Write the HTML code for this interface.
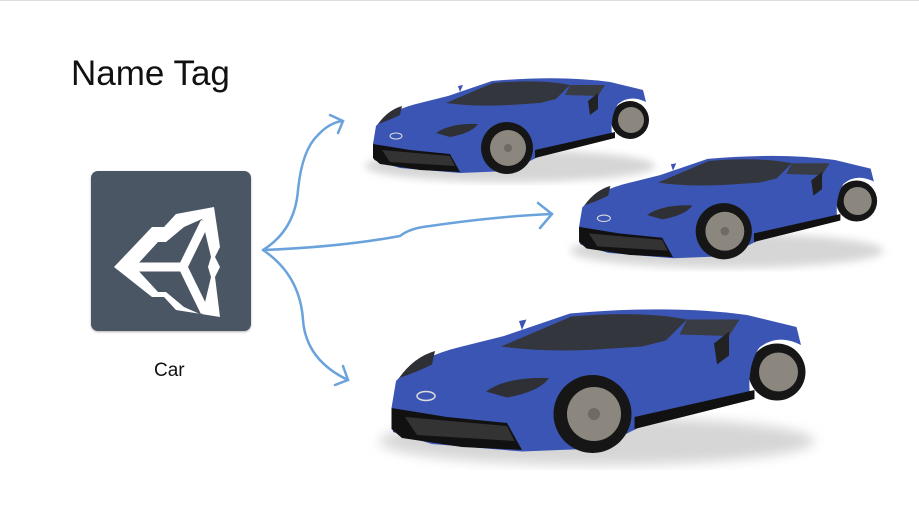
<!DOCTYPE html>
<html><head><meta charset="utf-8"><style>
html,body{margin:0;padding:0;background:#fff;}
body{width:919px;height:517px;position:relative;overflow:hidden;font-family:"Liberation Sans",sans-serif;}
.title{position:absolute;left:71px;top:54px;font-size:35px;color:#111;font-family:"Liberation Sans",sans-serif;font-weight:300;}
.lbl{position:absolute;left:154px;top:360px;font-size:19px;color:#111;}
.icon{position:absolute;left:91px;top:171px;width:160px;height:160px;background:#4b5665;border-radius:7px;box-shadow:0 1px 2px rgba(0,0,0,.3);}
</style></head><body>
<div style="position:absolute;left:0;top:0;width:919px;height:1px;background:#ddd"></div>
<div class="title">Name Tag</div>
<div class="icon"></div>
<div class="lbl">Car</div>
<svg width="919" height="517" style="position:absolute;left:0;top:0">
<defs>
<filter id="bl"><feGaussianBlur stdDeviation="4"/></filter>
<g id="car">
<ellipse cx="150" cy="96" rx="145" ry="16" fill="#d6d6d6" filter="url(#bl)"/>
<circle cx="270" cy="50" r="19" fill="#161616"/>
<circle cx="271" cy="50" r="13" fill="#8c877e"/>
<path d="M13,74 L16,56 Q30,40 60,33 L88,26 L132,11 Q200,5 250,12 L283,20 L286,32 Q270,24 258,34 Q250,46 252,66 L180,86 L150,101 L100,103 L40,98 L14,90 Z" fill="#3b55b4"/>
<path d="M86,33 L133,13 Q180,9 210,15 L196,29 L180,33 L150,35 Q115,37 86,33 Z" fill="#34363d"/>
<path d="M210,15 L245,15 L238,26 L205,25 Z" fill="#3a3c44"/>
<path d="M18,54 Q28,40 42,36 L40,45 Q30,50 18,54 Z" fill="#2f3036"/>
<path d="M76,63 Q90,53 118,54 Q112,63 90,67 Z" fill="#2f3036"/>
<path d="M13,74 L50,80 L90,84 L100,102 L60,100 L20,94 L13,88 Z" fill="#111"/>
<path d="M22,80 L90,86 L95,96 L30,92 Z" fill="#333"/>
<ellipse cx="36" cy="66" rx="6" ry="3" fill="none" stroke="#ddd" stroke-width="1"/>
<path d="M175,80 L255,62 L255,68 L175,88 Z" fill="#111"/>
<path d="M228,31 L238,23 L238,39 L230,45 Z" fill="#222"/>
<circle cx="147" cy="78" r="26" fill="#161616"/>
<circle cx="148" cy="78" r="18" fill="#8c877e"/>
<circle cx="148" cy="78" r="4" fill="#6f6a62"/>
<path d="M100,22 L98,16 L103,15 Z" fill="#3b55b4"/>
</g>
</defs>
<g transform="translate(114,197)">
<path d="M0,70 L38,30 L50,30 L62,17 L100,10 L106,50 L101,60 L106,70 L101,80 L106,120 L62,113 L50,100 L38,100 Z" fill="#fff"/>
<path d="M21,70 L44,45 L52,45 L70,30 L88,22 L97,60 L94,70 L97,80 L88,118 L70,110 L52,95 L44,95 Z" fill="#4b5665"/>
<path d="M21,70 L69,70 L91,25 M69,70 L91,115" stroke="#fff" stroke-width="9" fill="none"/>
</g>
<use href="#car" transform="translate(360,70)"/>
<use href="#car" transform="translate(565,147) scale(1.08)"/>
<use href="#car" transform="translate(372,297) scale(1.5)"/>
<g stroke="#6aa3dc" stroke-width="2.5" fill="none" stroke-linecap="round">
<path d="M263,250 Q295,230 298,190 Q302,150 318,135 Q330,122 343,121"/>
<path d="M330,115 L343,121 L338,133"/>
<path d="M263,250 Q340,247 400,236 Q410,228 430,226 Q500,216 552,214"/>
<path d="M538,203 L552,214 L540,228"/>
<path d="M263,250 Q300,275 303,320 Q306,360 348,380"/>
<path d="M343,366 L348,380 L335,385"/>
</g>
</svg>
</body></html>
